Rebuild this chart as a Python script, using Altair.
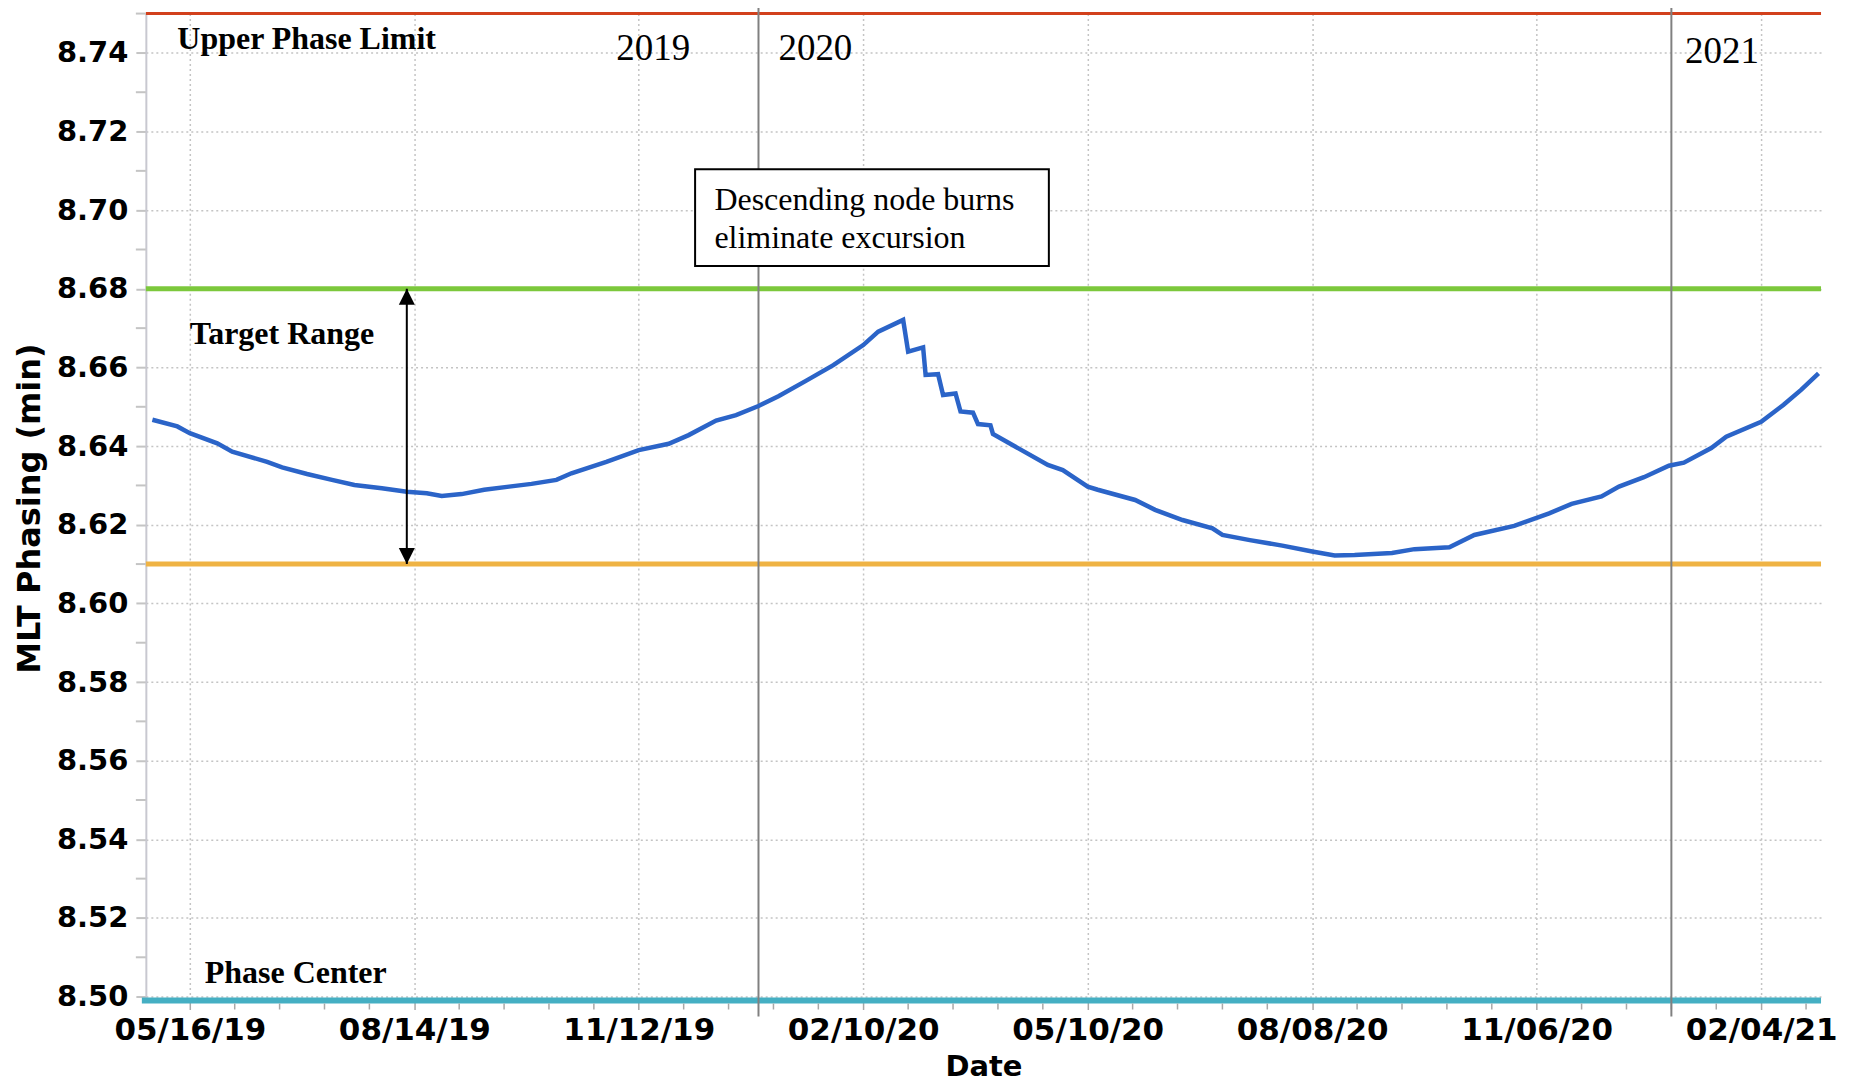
import altair as alt
import pandas as pd

# ---------------- data ----------------
phase_dates = [
    "2019-05-01", "2019-05-11", "2019-05-16", "2019-05-27", "2019-06-02", "2019-06-16",
    "2019-06-22", "2019-07-02", "2019-07-12", "2019-07-21", "2019-08-01", "2019-08-11",
    "2019-08-19", "2019-08-25", "2019-09-02", "2019-09-11", "2019-09-21", "2019-09-30",
    "2019-10-10", "2019-10-16", "2019-10-30", "2019-11-12", "2019-11-24", "2019-12-02",
    "2019-12-13", "2019-12-21", "2019-12-30", "2020-01-07", "2020-01-18", "2020-01-29",
    "2020-02-10", "2020-02-16", "2020-02-26", "2020-02-28", "2020-03-05", "2020-03-06",
    "2020-03-11", "2020-03-13", "2020-03-18", "2020-03-20", "2020-03-25", "2020-03-27",
    "2020-04-01", "2020-04-02", "2020-04-24", "2020-04-30", "2020-05-10", "2020-05-14",
    "2020-05-29", "2020-06-06", "2020-06-17", "2020-06-29", "2020-07-03", "2020-07-14",
    "2020-07-27", "2020-08-08", "2020-08-17", "2020-08-25", "2020-09-09", "2020-09-18",
    "2020-10-02", "2020-10-12", "2020-10-28", "2020-11-11", "2020-11-20", "2020-12-02",
    "2020-12-09", "2020-12-19", "2020-12-29", "2021-01-04", "2021-01-15", "2021-01-21",
    "2021-02-04", "2021-02-13", "2021-02-20", "2021-02-27",
]
phase_values = [
    8.6467, 8.6450, 8.6433, 8.6407, 8.6386, 8.6360,
    8.6346, 8.6329, 8.6314, 8.6301, 8.6293, 8.6284,
    8.6280, 8.6273, 8.6278, 8.6289, 8.6297, 8.6304,
    8.6314, 8.6331, 8.6360, 8.6390, 8.6406, 8.6428,
    8.6465, 8.6479, 8.6502, 8.6527, 8.6566, 8.6606,
    8.6657, 8.6691, 8.6721, 8.6640, 8.6651, 8.6581,
    8.6583, 8.6530, 8.6534, 8.6488, 8.6485, 8.6456,
    8.6453, 8.6431, 8.6352, 8.6339, 8.6297, 8.6289,
    8.6263, 8.6238, 8.6212, 8.6191, 8.6174, 8.6161,
    8.6147, 8.6132, 8.6122, 8.6123, 8.6128, 8.6138,
    8.6143, 8.6174, 8.6197, 8.6229, 8.6253, 8.6272,
    8.6297, 8.6321, 8.6350, 8.6358, 8.6395, 8.6424,
    8.6462, 8.6505, 8.6543, 8.6585,
]

UPPER_LIMIT = 8.75
TARGET_HIGH = 8.68
TARGET_LOW = 8.61
PHASE_CENTER = 8.499

year_line_dates = ["2019-12-30", "2020-12-30"]

x_tick_dates = ["2019-05-16", "2019-08-14", "2019-11-12", "2020-02-10",
                "2020-05-10", "2020-08-08", "2020-11-06", "2021-02-04"]
MINOR_STEP_DAYS = 18
y_tick_values = [8.50, 8.52, 8.54, 8.56, 8.58, 8.60, 8.62, 8.64, 8.66, 8.68, 8.70, 8.72, 8.74]
y_minor_tick_values = [8.51, 8.53, 8.55, 8.57, 8.59, 8.61, 8.63, 8.65, 8.67, 8.69, 8.71, 8.73, 8.75]

label_texts = ["Upper Phase Limit", "Target Range", "Phase Center"]
label_dates = ["2019-05-11", "2019-05-16", "2019-05-22"]
label_values = [8.7411, 8.6660, 8.5035]

year_texts = ["2019", "2020", "2021"]
year_text_dates = ["2019-11-03 00:00", "2020-01-07 00:00", "2021-01-04 12:00"]
year_text_values = [8.7381, 8.7381, 8.7374]

note_lines = ["Descending node burns", "eliminate excursion"]
note_dates = ["2019-12-12 08:00", "2019-12-12 08:00"]
note_values = [8.7000, 8.6903]
box_dates = ["2019-12-04 14:00", "2020-04-24 10:00"]
box_values = [8.7104, 8.6858]

arrow_date = "2019-08-11"


def to_dt(values):
    return pd.to_datetime(values, format="mixed")


# ---------------- tables ----------------
df_phase = pd.DataFrame({"date": to_dt(phase_dates), "value": phase_values})
df_years = pd.DataFrame({"date": to_dt(year_line_dates)})
major_ts = to_dt(x_tick_dates)
minor_ts = [major_ts[0] + pd.Timedelta(days=MINOR_STEP_DAYS * k) for k in range(1, 37) if k % 5 != 0]
df_xminor = pd.DataFrame({"date": minor_ts})
df_yminor = pd.DataFrame({"value": y_minor_tick_values})
df_labels = pd.DataFrame({"text": label_texts, "date": to_dt(label_dates), "value": label_values})
df_yeartxt = pd.DataFrame({"text": year_texts, "date": to_dt(year_text_dates), "value": year_text_values})
df_note = pd.DataFrame({"text": note_lines, "date": to_dt(note_dates), "value": note_values})
df_box = pd.DataFrame({"date": [pd.Timestamp(box_dates[0])], "date_end": [pd.Timestamp(box_dates[1])],
                       "value": [box_values[0]], "value_end": [box_values[1]]})
df_arrow = pd.DataFrame({"date": [pd.Timestamp(arrow_date)], "value": [TARGET_HIGH], "value_end": [TARGET_LOW]})
df_arrow_lo = pd.DataFrame({"date": [pd.Timestamp(arrow_date)], "value": [TARGET_LOW]})

W, H = 1677, 990

x_scale = alt.Scale(domain=[alt.DateTime(year=2019, month=4, date=28, hours=9),
                            alt.DateTime(year=2021, month=2, date=28)], nice=False)
y_scale = alt.Scale(domain=[8.4985, 8.75], nice=False, zero=False)

x_axis = alt.Axis(
    values=[alt.DateTime(year=t.year, month=t.month, date=t.day) for t in major_ts],
    format="%m/%d/%y", labelFont="DejaVu Sans", labelFontWeight="bold", labelFontSize=31,
    labelColor="black", labelPadding=6, labelFlush=False, labelOverlap=False, labelBound=False,
    tickSize=7, tickColor="#a8a8a8", tickWidth=1.5, domain=False,
    grid=True, gridColor="#c4c4c4", gridDash=[2, 3], gridWidth=1.5,
    titleFont="DejaVu Sans", titleFontSize=29, titleFontWeight="bold",
    titleColor="black", titlePadding=7,
)
y_axis = alt.Axis(
    values=y_tick_values, format=".2f", labelFont="DejaVu Sans", labelFontWeight="bold",
    labelFontSize=29, labelColor="black", labelPadding=8, labelFlush=False, labelOverlap=False,
    tickSize=10, tickColor="#c4c4c4", tickWidth=2, domainColor="#c8c8d0", domainWidth=2,
    grid=True, gridColor="#c4c4c4", gridDash=[2, 3], gridWidth=1.5,
    titleFont="DejaVu Sans", titleFontSize=32, titleFontWeight="bold",
    titleColor="black", titlePadding=10,
)


def X(field="date"):
    return alt.X(f"{field}:T", scale=x_scale, axis=x_axis, title="Date")


def Y(field="value"):
    return alt.Y(f"{field}:Q", scale=y_scale, axis=y_axis, title="MLT Phasing (min)")


def hline(value, color, width, x0=None):
    d = pd.DataFrame({"value": [value]})
    enc = {"y": Y()}
    if x0 is not None:
        enc["x"] = alt.value(x0)
        enc["x2"] = alt.value(W)
    return alt.Chart(d).mark_rule(color=color, strokeWidth=width).encode(**enc)


red = hline(UPPER_LIMIT, "#D2401C", 3)
green = hline(TARGET_HIGH, "#7CC83C", 5)
orange = hline(TARGET_LOW, "#EFB344", 5)
teal = hline(PHASE_CENTER, "#45AFC3", 6, x0=-4)

x_minor = alt.Chart(df_xminor).mark_rule(color="#a8a8a8", strokeWidth=1.5).encode(
    x=X(), y=alt.value(H + 1), y2=alt.value(H + 7))
y_minor = alt.Chart(df_yminor).mark_rule(color="#c4c4c4", strokeWidth=2).encode(
    y=Y(), x=alt.value(-10), x2=alt.value(0))

year_lines = alt.Chart(df_years).mark_rule(color="#808080", strokeWidth=2).encode(
    x=X(), y=alt.value(-6), y2=alt.value(H + 14))

phase_line = alt.Chart(df_phase).mark_line(color="#2B64C8", strokeWidth=4.5).encode(
    x=X(), y=Y())

box = alt.Chart(df_box).mark_rect(fill="white", stroke="black", strokeWidth=2).encode(
    x=X(), x2="date_end", y=Y(), y2="value_end")

note_text = alt.Chart(df_note).mark_text(
    align="left", baseline="alphabetic", font="Liberation Serif", fontSize=32, color="black"
).encode(x=X(), y=Y(), text="text:N")

bold_labels = alt.Chart(df_labels).mark_text(
    align="left", baseline="alphabetic", font="Liberation Serif", fontSize=32,
    fontWeight="bold", color="black"
).encode(x=X(), y=Y(), text="text:N")

year_labels = alt.Chart(df_yeartxt).mark_text(
    align="left", baseline="alphabetic", font="Liberation Serif", fontSize=37, color="black"
).encode(x=X(), y=Y(), text="text:N")

arrow_shaft = alt.Chart(df_arrow).mark_rule(color="black", strokeWidth=2).encode(
    x=X(), y=Y(), y2="value_end")
arrow_up = alt.Chart(df_arrow).mark_point(
    shape="M0,-1L-1,1L1,1Z", size=256, filled=True, color="black", opacity=1, yOffset=8
).encode(x=X(), y=Y())
arrow_down = alt.Chart(df_arrow_lo).mark_point(
    shape="M0,1L-1,-1L1,-1Z", size=256, filled=True, color="black", opacity=1, yOffset=-8
).encode(x=X(), y=Y())

chart = alt.layer(
    red, green, orange, teal, x_minor, y_minor, year_lines, phase_line,
    box, note_text, bold_labels, year_labels, arrow_shaft, arrow_up, arrow_down,
).properties(
    width=W, height=H,
    padding={"left": 138, "top": 5, "right": 25, "bottom": 80},
    autosize=alt.AutoSizeParams(type="none"),
).configure_view(strokeOpacity=0)

chart.save("out.html", embed_options={"renderer": "svg", "actions": False})
